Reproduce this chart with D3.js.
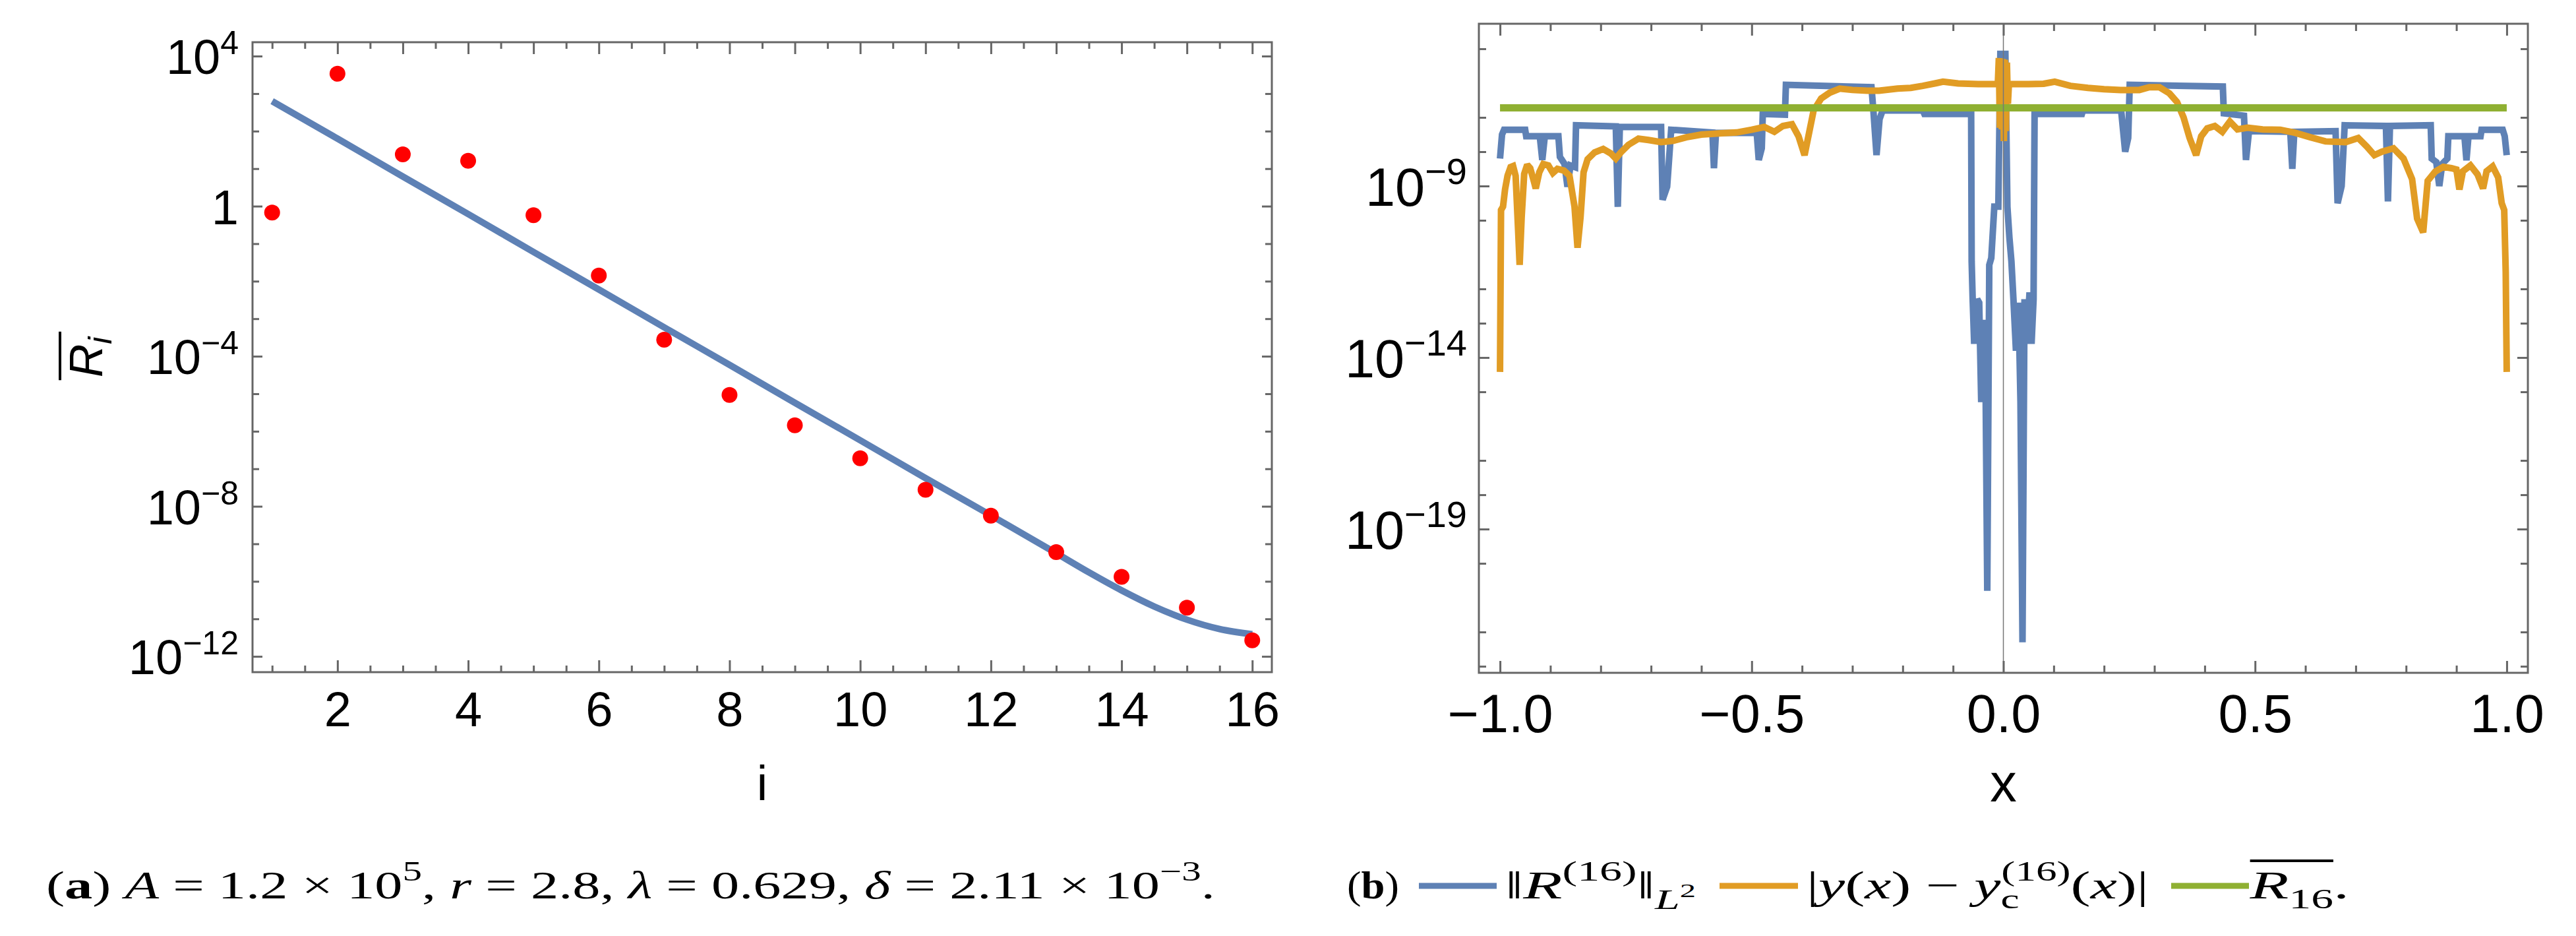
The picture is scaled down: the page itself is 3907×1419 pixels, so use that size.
<!DOCTYPE html>
<html>
<head>
<meta charset="utf-8">
<title>Residual plots</title>
<script src="https://cdn.jsdelivr.net/npm/d3@7"></script>
<style>
  body { margin: 0; background-color: white; }
  svg { display: block; }
</style>
</head>
<body>
<div id="chart"></div>
<script>

// ---- panel (a): mean residual for each index i, stored as log10 values ----
let residualIndex = [1, 2, 3, 4, 5, 6, 7, 8, 9, 10, 11, 12, 13, 14, 15, 16];
let residualExponent = [-0.17, 3.53, 1.38, 1.21, -0.24, -1.85, -3.56, -5.03, -5.84, -6.72, -7.56, -8.25, -9.22, -9.88, -10.70, -11.57];

// fitted curve
let fitIndex = [1, 2, 3, 4, 5, 6, 7, 8, 9, 10, 11, 12, 13, 13.5, 14, 14.5, 15, 15.5, 16];
let fitExponent = [2.80, 1.80, 0.79, -0.21, -1.22, -2.22, -3.23, -4.23, -5.24, -6.24, -7.25, -8.24, -9.25, -9.76, -10.24, -10.67, -11.02, -11.27, -11.41];

// ---- panel (b): [x, log10 value] ----
let residualNorm = [
  [-1.000, -8.20], [-0.996, -7.50], [-0.992, -7.36], [-0.950, -7.36], [-0.948, -7.55], [-0.921, -7.55],
  [-0.916, -8.24], [-0.911, -7.55], [-0.884, -7.55], [-0.881, -8.15], [-0.872, -8.35], [-0.866, -9.02],
  [-0.860, -8.40], [-0.851, -8.45], [-0.849, -7.23], [-0.770, -7.26], [-0.766, -9.61], [-0.762, -7.28],
  [-0.680, -7.28], [-0.677, -9.40], [-0.668, -9.02], [-0.660, -7.36], [-0.578, -7.44], [-0.575, -8.48],
  [-0.571, -7.45], [-0.490, -7.45], [-0.486, -8.24], [-0.480, -7.90], [-0.478, -6.90], [-0.434, -6.92],
  [-0.432, -6.05], [-0.262, -6.12], [-0.258, -6.85], [-0.252, -8.10], [-0.246, -7.05], [-0.240, -6.80],
  [-0.160, -6.80], [-0.157, -6.90], [-0.064, -6.90], [-0.063, -11.2], [-0.061, -12.3], [-0.058, -13.6],
  [-0.052, -12.3], [-0.048, -12.4], [-0.044, -15.3], [-0.040, -12.9], [-0.036, -13.6], [-0.032, -20.8],
  [-0.028, -11.3], [-0.024, -11.1], [-0.018, -9.60], [-0.010, -9.60], [-0.006, -5.15], [0.004, -5.15],
  [0.008, -9.60], [0.012, -10.5], [0.016, -11.2], [0.020, -12.3], [0.025, -13.8], [0.030, -12.4],
  [0.034, -15.3], [0.038, -22.3], [0.042, -12.3], [0.046, -13.6], [0.052, -12.1], [0.056, -13.6],
  [0.060, -12.3], [0.062, -6.90], [0.156, -6.90], [0.158, -6.80], [0.234, -6.80], [0.238, -7.40],
  [0.242, -8.00], [0.248, -7.60], [0.251, -6.05], [0.436, -6.10], [0.438, -6.88], [0.478, -6.95],
  [0.482, -8.24], [0.488, -7.40], [0.570, -7.42], [0.574, -8.50], [0.578, -7.42], [0.660, -7.40],
  [0.664, -9.50], [0.672, -9.00], [0.678, -7.23], [0.760, -7.25], [0.764, -9.45], [0.768, -7.25],
  [0.849, -7.23], [0.851, -8.20], [0.860, -8.30], [0.866, -9.00], [0.872, -8.35], [0.882, -8.20],
  [0.884, -7.55], [0.916, -7.55], [0.920, -8.25], [0.924, -7.55], [0.948, -7.55], [0.950, -7.36],
  [0.992, -7.36], [0.996, -7.55], [1.000, -8.10]
];

let solutionError = [
  [-1.000, -14.42], [-0.998, -9.70], [-0.994, -9.60], [-0.990, -9.10], [-0.985, -8.70], [-0.979, -8.45],
  [-0.974, -8.42], [-0.969, -8.70], [-0.964, -10.3], [-0.961, -11.30], [-0.957, -9.90], [-0.952, -8.65],
  [-0.946, -8.38], [-0.940, -8.48], [-0.933, -8.85], [-0.929, -9.07], [-0.922, -8.60], [-0.914, -8.36],
  [-0.904, -8.40], [-0.895, -8.62], [-0.886, -8.50], [-0.873, -8.55], [-0.862, -8.70], [-0.852, -9.60],
  [-0.846, -10.80], [-0.840, -9.90], [-0.834, -8.60], [-0.826, -8.22], [-0.812, -8.02], [-0.795, -7.92],
  [-0.780, -8.05], [-0.770, -8.20], [-0.760, -8.02], [-0.745, -7.80], [-0.725, -7.62], [-0.705, -7.66],
  [-0.680, -7.72], [-0.655, -7.68], [-0.630, -7.58], [-0.600, -7.50], [-0.560, -7.46], [-0.530, -7.44],
  [-0.500, -7.36], [-0.475, -7.28], [-0.455, -7.42], [-0.438, -7.25], [-0.420, -7.20], [-0.407, -7.55],
  [-0.395, -8.10], [-0.386, -7.45], [-0.377, -6.80], [-0.362, -6.45], [-0.345, -6.28], [-0.325, -6.16],
  [-0.300, -6.20], [-0.270, -6.22], [-0.247, -6.22], [-0.210, -6.16], [-0.184, -6.14], [-0.160, -6.08],
  [-0.133, -6.00], [-0.120, -5.96], [-0.090, -6.01], [-0.050, -6.03], [-0.011, -6.03], [-0.009, -5.27],
  [-0.007, -7.30], [-0.005, -5.28], [-0.003, -7.35], [-0.001, -5.30], [0.001, -7.69], [0.003, -5.32],
  [0.005, -7.40], [0.007, -5.40], [0.009, -6.60], [0.011, -6.03], [0.050, -6.03], [0.080, -6.02],
  [0.102, -5.96], [0.133, -6.08], [0.168, -6.14], [0.200, -6.18], [0.233, -6.20], [0.270, -6.20],
  [0.290, -6.12], [0.310, -6.12], [0.330, -6.30], [0.345, -6.55], [0.358, -7.00], [0.370, -7.60],
  [0.383, -8.10], [0.393, -7.55], [0.405, -7.32], [0.420, -7.25], [0.435, -7.42], [0.450, -7.12],
  [0.465, -7.35], [0.485, -7.30], [0.515, -7.35], [0.550, -7.36], [0.580, -7.45], [0.610, -7.58],
  [0.640, -7.70], [0.680, -7.72], [0.705, -7.60], [0.722, -7.85], [0.737, -8.10], [0.752, -8.00],
  [0.775, -7.90], [0.795, -8.20], [0.812, -8.80], [0.822, -9.95], [0.834, -10.35], [0.843, -8.85],
  [0.858, -8.58], [0.874, -8.44], [0.890, -8.48], [0.900, -8.52], [0.906, -9.10], [0.913, -8.57],
  [0.928, -8.40], [0.942, -8.66], [0.953, -9.07], [0.960, -8.57], [0.972, -8.43], [0.983, -8.75],
  [0.990, -9.50], [0.995, -9.70], [0.998, -11.5], [1.000, -14.42]
];

let meanResidual = [[-1, -6.72], [1, -6.72]];

// ---- tick values ----
let aBottomMajor = [2, 4, 6, 8, 10, 12, 14, 16];
let aBottomMinor = [1, 1.5, 2.5, 3, 3.5, 4.5, 5, 5.5, 6.5, 7, 7.5, 8.5, 9, 9.5, 10.5, 11, 11.5, 12.5, 13, 13.5, 14.5, 15, 15.5];
let aTopMajor = [2, 3, 4, 5, 6, 7, 8, 9, 10, 11, 12, 13, 14, 15, 16];
let aTopMinor = [1, 1.5, 2.5, 3.5, 4.5, 5.5, 6.5, 7.5, 8.5, 9.5, 10.5, 11.5, 12.5, 13.5, 14.5, 15.5];
let aYMajor = [4, 0, -4, -8, -12];
let aYMinor = [3, 2, 1, -1, -2, -3, -5, -6, -7, -9, -10, -11];
let bXMajor = [-1, -0.5, 0, 0.5, 1];
let bXLabels = ['\u22121.0', '\u22120.5', '0.0', '0.5', '1.0'];
let bXMinor = [-0.9, -0.8, -0.7, -0.6, -0.4, -0.3, -0.2, -0.1, 0.1, 0.2, 0.3, 0.4, 0.6, 0.7, 0.8, 0.9];
let bYMajor = [-9, -14, -19];
let bYMinor = [-5, -7, -8, -10, -12, -13, -15, -17, -18, -20, -22, -23];

// ---- look ----
let width = 3907, height = 1419;
let frameColor = '#666666';
let blue = '#5E81B5', orange = '#E19C24', green = '#8FB032';
let sans = "'Liberation Sans', Arial, sans-serif";
let serif = "'Liberation Serif', 'Times New Roman', serif";

let svg = d3.select('#chart')
  .append('svg')
    .attr('width', width)
    .attr('height', height)
    .style('background-color', 'white');

let boxA = {left: 383, right: 1929, top: 64, bottom: 1019};
let boxB = {left: 2243, right: 3834, top: 36, bottom: 1020};

let pow10 = e => Math.pow(10, e);

let xA = d3.scaleLinear().domain([0.7, 16.3]).range([boxA.left, boxA.right]);
let yA = d3.scaleLog().domain([pow10(-12.42), pow10(4.37)]).range([boxA.bottom, boxA.top]);
let xB = d3.scaleLinear().domain([-1.042, 1.042]).range([boxB.left, boxB.right]);
let yB = d3.scaleLog().domain([pow10(-23.19), pow10(-4.27)]).range([boxB.bottom, boxB.top]);

// draws one row of inward ticks (and labels when a format is given)
let addTicks = function(axisFn, scale, values, size, transform, format, padding) {
  let axis = axisFn(scale)
    .tickValues(values)
    .tickSizeInner(-size)
    .tickSizeOuter(0)
    .tickPadding(padding || 0)
    .tickFormat(format || (() => ''));
  let g = svg.append('g')
    .attr('transform', transform)
    .call(axis);
  g.select('.domain').remove();
  g.attr('font-family', sans).attr('font-size', null).attr('color', 'black');
  g.selectAll('.tick line').attr('stroke', frameColor).attr('stroke-width', 3);
  return g;
}

// rewrites a tick label as 10 with a raised exponent
let powerLabels = function(g, baseSize, supSize, raise) {
  g.selectAll('.tick text')
    .attr('font-size', baseSize)
    .attr('dy', '0.36em')
    .each(function(d) {
      let e = Math.round(Math.log10(d));
      let t = d3.select(this).text(null);
      if (e === 0) { t.append('tspan').text('1'); return; }
      t.append('tspan').text('10');
      t.append('tspan')
        .attr('font-size', supSize)
        .attr('dy', -raise)
        .text(e < 0 ? '\u2212' + Math.abs(e) : e);
    });
}

// ================= panel (a) =================
let fitLine = d3.line()
  .x(d => xA(d[0]))
  .y(d => yA(pow10(d[1])))
  .curve(d3.curveMonotoneX);

svg.append('path')
  .datum(d3.zip(fitIndex, fitExponent))
  .attr('d', fitLine)
  .attr('fill', 'none')
  .attr('stroke', blue)
  .attr('stroke-width', 10);

svg.append('g')
  .selectAll('circle')
    .data(d3.zip(residualIndex, residualExponent))
  .enter()
  .append('circle')
    .attr('cx', d => xA(d[0]))
    .attr('cy', d => yA(pow10(d[1])))
    .attr('r', 12)
    .attr('fill', '#FF0000');

// frame and ticks
svg.append('rect')
  .attr('x', boxA.left).attr('y', boxA.top)
  .attr('width', boxA.right - boxA.left).attr('height', boxA.bottom - boxA.top)
  .attr('fill', 'none').attr('stroke', frameColor).attr('stroke-width', 3);

let aBottom = addTicks(d3.axisBottom, xA, aBottomMajor, 18, `translate(0,${boxA.bottom})`, d3.format('d'), 29);
aBottom.selectAll('.tick text').attr('font-size', 74);
addTicks(d3.axisBottom, xA, aBottomMinor, 10, `translate(0,${boxA.bottom})`);
addTicks(d3.axisTop, xA, aTopMajor, 18, `translate(0,${boxA.top})`);
addTicks(d3.axisTop, xA, aTopMinor, 10, `translate(0,${boxA.top})`);

let aLeft = addTicks(d3.axisLeft, yA, aYMajor.map(pow10), 15, `translate(${boxA.left},0)`, d => d, 21);
powerLabels(aLeft, 74, 50, 30);
addTicks(d3.axisLeft, yA, aYMinor.map(pow10), 10, `translate(${boxA.left},0)`);
addTicks(d3.axisRight, yA, aYMajor.map(pow10), 15, `translate(${boxA.right},0)`);
addTicks(d3.axisRight, yA, aYMinor.map(pow10), 10, `translate(${boxA.right},0)`);

// axis titles
svg.append('text')
  .attr('x', (boxA.left + boxA.right) / 2)
  .attr('y', 1213)
  .attr('text-anchor', 'middle')
  .attr('font-family', sans)
  .attr('font-size', 74)
  .text('i');

let yTitle = svg.append('g')
  .attr('transform', `translate(155, ${(boxA.top + boxA.bottom) / 2}) rotate(-90)`);
let yTitleText = yTitle.append('text')
  .attr('text-anchor', 'middle')
  .attr('font-family', sans)
  .attr('font-style', 'italic')
  .attr('font-size', 70);
yTitleText.append('tspan').text('R');
yTitleText.append('tspan').attr('font-size', 50).attr('dy', 14).text('i');
let yTitleBox = yTitleText.node().getBBox();
yTitle.append('line')
  .attr('x1', yTitleBox.x - 4).attr('x2', yTitleBox.x + yTitleBox.width + 6)
  .attr('y1', -64).attr('y2', -64)
  .attr('stroke', 'black').attr('stroke-width', 4);

// ================= panel (b) =================
svg.append('clipPath')
  .attr('id', 'clipB')
  .append('rect')
    .attr('x', boxB.left).attr('y', boxB.top)
    .attr('width', boxB.right - boxB.left).attr('height', boxB.bottom - boxB.top);

let curveB = d3.line()
  .x(d => xB(d[0]))
  .y(d => yB(pow10(d[1])));

let plotB = svg.append('g').attr('clip-path', 'url(#clipB)');

[[residualNorm, blue, 10], [solutionError, orange, 10], [meanResidual, green, 11]].forEach(s => {
  plotB.append('path')
    .datum(s[0])
    .attr('d', curveB)
    .attr('fill', 'none')
    .attr('stroke', s[1])
    .attr('stroke-width', s[2])
    .attr('stroke-linejoin', 'miter')
    .attr('stroke-miterlimit', 2);
});

// thin axis line at x = 0
svg.append('line')
  .attr('x1', xB(0)).attr('x2', xB(0))
  .attr('y1', boxB.top).attr('y2', boxB.bottom)
  .attr('stroke', '#777777').attr('stroke-width', 1.5);

svg.append('rect')
  .attr('x', boxB.left).attr('y', boxB.top)
  .attr('width', boxB.right - boxB.left).attr('height', boxB.bottom - boxB.top)
  .attr('fill', 'none').attr('stroke', frameColor).attr('stroke-width', 3);

let bBottom = addTicks(d3.axisBottom, xB, bXMajor, 18, `translate(0,${boxB.bottom})`, (d, i) => bXLabels[i], 32);
bBottom.selectAll('.tick text').attr('font-size', 81);
addTicks(d3.axisBottom, xB, bXMinor, 11, `translate(0,${boxB.bottom})`);
addTicks(d3.axisTop, xB, bXMajor, 18, `translate(0,${boxB.top})`);
addTicks(d3.axisTop, xB, bXMinor, 11, `translate(0,${boxB.top})`);

let bLeft = addTicks(d3.axisLeft, yB, bYMajor.map(pow10), 16, `translate(${boxB.left},0)`, d => d, 18);
powerLabels(bLeft, 81, 56, 33);
addTicks(d3.axisLeft, yB, bYMinor.map(pow10), 11, `translate(${boxB.left},0)`);
addTicks(d3.axisRight, yB, bYMajor.map(pow10), 16, `translate(${boxB.right},0)`);
addTicks(d3.axisRight, yB, bYMinor.map(pow10), 11, `translate(${boxB.right},0)`);

svg.append('text')
  .attr('x', (boxB.left + boxB.right) / 2)
  .attr('y', 1215)
  .attr('text-anchor', 'middle')
  .attr('font-family', sans)
  .attr('font-size', 81)
  .text('x');

// ================= captions =================
let capFs = 60, capBaseline = 1362;

// writes a list of spans: [text, {italic, bold, size, dy, dx}]
let writeSpans = function(text, parts) {
  parts.forEach(p => {
    let o = p[1] || {};
    let s = text.append('tspan').text(p[0]);
    if (o.italic) s.attr('font-style', 'italic');
    if (o.bold) s.attr('font-weight', 'bold');
    if (o.size) s.attr('font-size', o.size);
    if (o.dy) s.attr('dy', o.dy);
    if (o.dx) s.attr('dx', o.dx);
  });
}

// stretches a caption piece horizontally so its ink spans x0..x1
let fitSpan = function(g, x0, x1) {
  let box = g.node().getBBox();
  let sx = (x1 - x0) / box.width;
  g.attr('transform', `translate(${x0 - box.x * sx}, ${capBaseline}) scale(${sx}, 1)`);
}

let captionPiece = function(parts, x0, x1) {
  let g = svg.append('g');
  let t = g.append('text').attr('font-family', serif).attr('font-size', capFs);
  writeSpans(t, parts);
  fitSpan(g, x0, x1);
  return g;
}

let sup = capFs * 0.7, raise = capFs * 0.45;

captionPiece([
  ['('], ['a', {bold: true}], [') '], ['A', {italic: true}], [' = 1.2 \u00d7 10'],
  ['5', {size: sup, dy: -raise}], [', ', {dy: raise}], ['r', {italic: true}], [' = 2.8, '],
  ['\u03bb', {italic: true}], [' = 0.629, '], ['\u03b4', {italic: true}], [' = 2.11 \u00d7 10'],
  ['\u22123', {size: sup, dy: -raise}], ['.', {dy: raise}]
], 70, 1843);

captionPiece([['('], ['b', {bold: true}], [')']], 2043, 2122);

captionPiece([
  ['\u2016'], ['R', {italic: true}], ['(16)', {size: sup, dy: -raise}], ['\u2016', {dy: raise}],
  ['L', {italic: true, size: sup, dy: 16}], ['2', {size: capFs * 0.5, dy: -18}]
], 2283, 2572);

captionPiece([
  ['|'], ['y', {italic: true}], ['('], ['x', {italic: true}], [') \u2212 '], ['y', {italic: true}],
  ['c', {size: sup, dy: 15}], ['(16)', {size: sup, dx: -18, dy: -15 - raise}], ['(', {dy: raise}],
  ['x', {italic: true}], [')|']
], 2740, 3259);

let meanCap = captionPiece([
  ['R', {italic: true}], ['16', {size: sup, dy: 15}], ['.', {dy: -15}]
], 3411, 3563);
let meanText = meanCap.select('text').node();
let barEnd = meanText.getEndPositionOfChar(2).x;
meanCap.append('line')
  .attr('x1', 0).attr('x2', barEnd)
  .attr('y1', -57).attr('y2', -57)
  .attr('stroke', 'black').attr('stroke-width', 4);

// legend swatches
[[2152, 2270, blue], [2608, 2727, orange], [3293, 3411, green]].forEach(s => {
  svg.append('line')
    .attr('x1', s[0]).attr('x2', s[1])
    .attr('y1', capBaseline - 19).attr('y2', capBaseline - 19)
    .attr('stroke', s[2]).attr('stroke-width', 9);
});

</script>
</body>
</html>
